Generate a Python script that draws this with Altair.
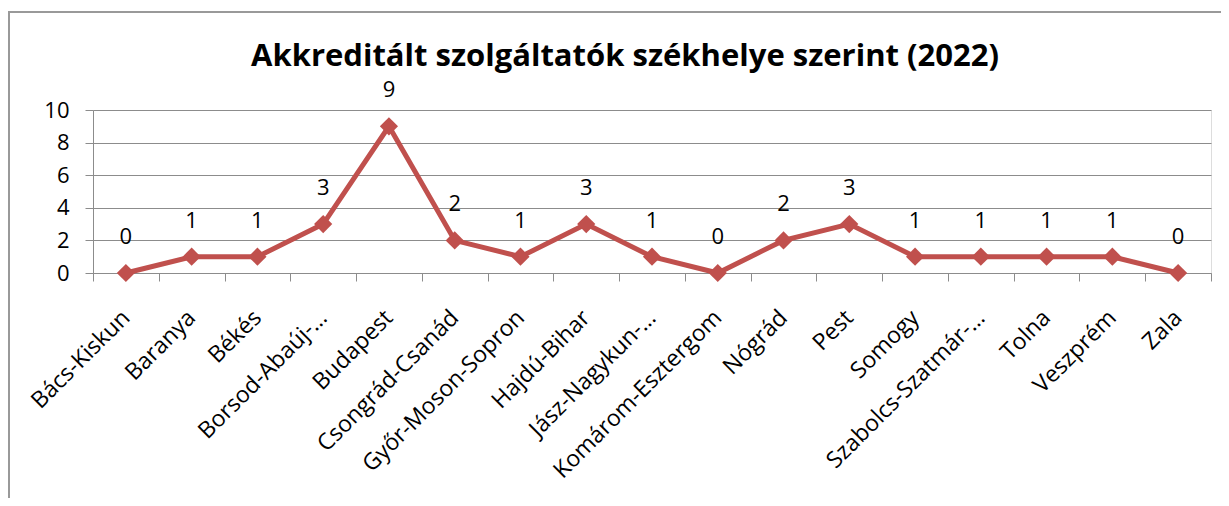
import altair as alt
import pandas as pd

counties = ["Bács-Kiskun", "Baranya", "Békés", "Borsod-Abaúj-…", "Budapest",
            "Csongrád-Csanád", "Győr-Moson-Sopron", "Hajdú-Bihar", "Jász-Nagykun-…",
            "Komárom-Esztergom", "Nógrád", "Pest", "Somogy", "Szabolcs-Szatmár-…",
            "Tolna", "Veszprém", "Zala"]
values = [0, 1, 1, 3, 9, 2, 1, 3, 1, 0, 2, 3, 1, 1, 1, 1, 0]
y_ticks = [0, 2, 4, 6, 8, 10]
title_text = "Akkreditált szolgáltatók székhelye szerint (2022)"

df = pd.DataFrame({"megye": counties, "db": values})

FONT = "Open Sans"
LINE = "#C0504D"
GRID = "#8C8C8C"

x_enc = alt.X("megye:N", sort=None, title=None,
              scale=alt.Scale(paddingInner=0, paddingOuter=0),
              axis=alt.Axis(labelAngle=-45, labelFont=FONT, labelFontSize=23,
                            labelColor="black", labelPadding=25, labelOffset=-8,
                            labelLimit=0,
                            tickBand="extent", tickSize=8, tickColor=GRID,
                            domainColor=GRID, grid=False, labelOverlap=False))
y_enc = alt.Y("db:Q", title=None,
              scale=alt.Scale(domain=[0, 10], nice=False),
              axis=alt.Axis(values=y_ticks, labelFont=FONT, labelFontSize=22,
                            labelColor="black", labelPadding=16, tickSize=8,
                            tickColor=GRID, domainColor=GRID, gridColor=GRID,
                            gridWidth=1, grid=True))

base = alt.Chart(df)

line = base.mark_line(color=LINE, strokeWidth=5).encode(x=x_enc, y=y_enc)
pts = base.mark_point(shape="diamond", filled=True, size=330, color=LINE,
                      opacity=1).encode(x=x_enc, y=y_enc)
labels = base.mark_text(font=FONT, fontSize=22, color="black", dy=-36,
                        baseline="middle").encode(x=x_enc, y=y_enc, text="db:Q")

frame_df = pd.DataFrame({"k": [0]})
frame_left = alt.Chart(frame_df).mark_rule(color="#999999", strokeWidth=2).encode(
    x=alt.value(-84), y=alt.value(-99), y2=alt.value(400))
frame_top = alt.Chart(frame_df).mark_rule(color="#999999", strokeWidth=2).encode(
    x=alt.value(-85), x2=alt.value(1140), y=alt.value(-98))

chart = alt.layer(frame_left, frame_top, line, pts, labels).properties(
    width=1118, height=163,
    title=alt.TitleParams(text=title_text, font=FONT, fontSize=31,
                          fontWeight="bold", color="black", anchor="middle",
                          baseline="alphabetic", dx=-27, dy=87, offset=0),
    autosize=alt.AutoSizeParams(type="none"),
    padding={"left": 85, "top": 102, "right": 10, "bottom": 225},
).configure_view(stroke=None).configure(background="white")

chart.save("out.html", embed_options={"renderer": "svg", "actions": False})
